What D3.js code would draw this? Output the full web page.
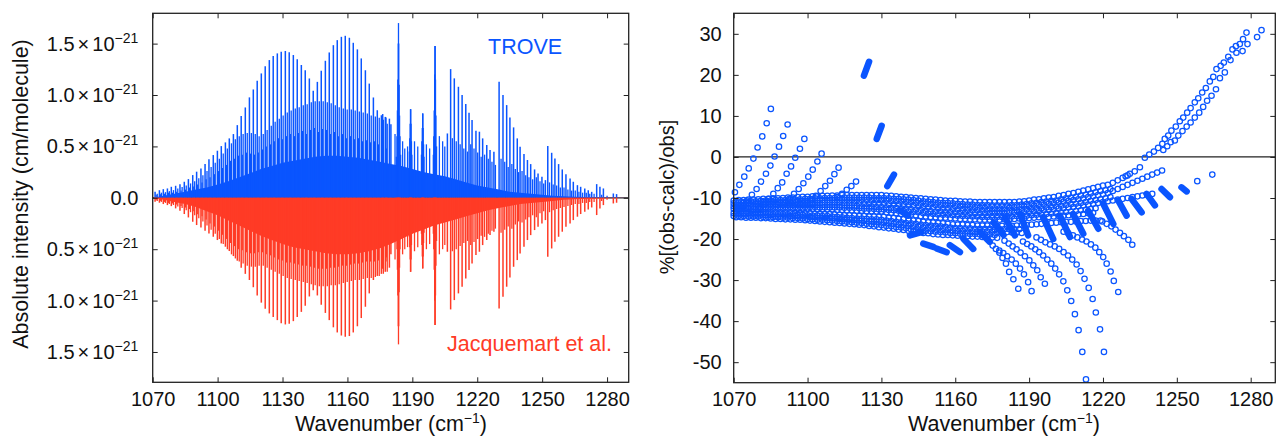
<!DOCTYPE html>
<html>
<head>
<meta charset="utf-8">
<script src="https://cdn.jsdelivr.net/npm/d3@7"></script>
<style>
  body { margin: 0; background: #fff; }
  svg text { font-family: "Liberation Sans", Arial, Helvetica, sans-serif; fill: #111; }
</style>
</head>
<body>
<script>
// ---------- left panel data (intensity in 1e-21 cm/molecule) ----------
// strongest comb of lines (P branch)
const lineX = [1071.1,1073.1,1074.9,1076.8,1078.6,1080.6,1082.6,1084.6,1086.5,1088.5,1090.3,1092.3,1094.2,1096.0,1098.0,1099.9,1101.7,1103.6,1105.4,1107.3,1109.1,1110.9,1112.8,1114.7,1116.5,1118.3,1120.2,1122.0,1123.9,1125.7,1127.6,1129.4,1131.3,1133.1,1135.0,1136.8,1138.7,1140.5,1142.4,1144.2,1146.1,1147.9,1149.8,1151.6,1153.5,1155.3,1157.2,1159.0,1160.9,1162.7,1164.6,1166.4,1168.3,1170.1,1172.0,1173.8,1175.7,1177.5,1179.4];
const blueMain = [0.058,0.074,0.084,0.091,0.107,0.117,0.133,0.156,0.182,0.221,0.254,0.286,0.328,0.374,0.416,0.458,0.503,0.539,0.578,0.620,0.707,0.795,0.879,0.977,1.054,1.138,1.210,1.281,1.340,1.379,1.405,1.421,1.428,1.415,1.389,1.347,1.292,1.241,1.161,1.041,1.128,1.236,1.333,1.414,1.485,1.534,1.566,1.576,1.557,1.508,1.444,1.356,1.241,1.111,0.976,0.852,0.803,0.787,0.770];
const redMain = [0.039,0.048,0.061,0.071,0.081,0.103,0.126,0.158,0.191,0.233,0.265,0.288,0.321,0.347,0.379,0.411,0.444,0.476,0.518,0.567,0.612,0.68,0.74,0.80,0.87,0.95,1.02,1.08,1.125,1.16,1.19,1.22,1.232,1.225,1.20,1.16,1.11,1.05,0.96,0.90,0.95,1.04,1.12,1.19,1.26,1.31,1.34,1.352,1.345,1.31,1.25,1.17,1.06,0.93,0.80,0.76,0.74,0.72,0.68];

// second comb (weaker sub-band)
const comb2X = [1072.1,1074.0,1075.9,1077.7,1079.6,1081.6,1083.6,1085.5,1087.5,1089.4,1091.3,1093.2,1095.1,1097.0,1098.9,1100.8,1102.6,1104.5,1106.4,1108.2,1110.0,1111.8,1113.7,1115.6,1117.4,1119.2,1121.1,1122.9,1124.8,1126.6,1128.5,1130.3,1132.2,1134.0,1135.9,1137.7,1139.6,1141.4,1143.3,1145.1,1147.0,1148.8,1150.7,1152.5,1154.4,1156.2,1158.1,1159.9,1161.8,1163.6,1165.5,1167.3,1169.2,1171.0,1172.9,1174.7,1176.6,1178.4];
const blueComb2 = [0.04,0.05,0.055,0.065,0.075,0.09,0.105,0.12,0.14,0.16,0.19,0.22,0.26,0.30,0.34,0.38,0.43,0.48,0.53,0.57,0.60,0.62,0.63,0.63,0.62,0.60,0.62,0.66,0.70,0.74,0.77,0.80,0.83,0.85,0.87,0.88,0.90,0.91,0.93,0.94,0.94,0.94,0.93,0.92,0.90,0.88,0.87,0.86,0.86,0.85,0.84,0.83,0.82,0.80,0.79,0.78,0.76,0.72];
const redComb2 = [0.03,0.04,0.05,0.06,0.07,0.085,0.10,0.12,0.14,0.17,0.20,0.23,0.27,0.31,0.35,0.40,0.45,0.50,0.55,0.59,0.62,0.64,0.66,0.67,0.67,0.66,0.66,0.68,0.70,0.72,0.74,0.76,0.78,0.79,0.80,0.81,0.82,0.83,0.84,0.85,0.86,0.86,0.86,0.85,0.85,0.84,0.83,0.82,0.81,0.80,0.80,0.79,0.78,0.78,0.77,0.76,0.74,0.72];

// third comb (between the two above)
const comb3X = [1071.6,1073.6,1075.4,1077.3,1079.1,1081.1,1083.1,1085.1,1087.0,1089.0,1090.8,1092.8,1094.7,1096.5,1098.5,1100.4,1102.2,1104.1,1105.9,1107.8,1109.6,1111.4,1113.3,1115.2,1117.0,1118.8,1120.7,1122.5,1124.4,1126.2,1128.1,1129.9,1131.8,1133.6,1135.5,1137.3,1139.2,1141.0,1142.9,1144.7,1146.6,1148.4,1150.3,1152.1,1154.0,1155.8,1157.7,1159.5,1161.4,1163.2,1165.1,1166.9,1168.8,1170.6,1172.5,1174.3,1176.2,1178.0];
const blueComb3 = [0.03,0.035,0.04,0.05,0.05,0.06,0.07,0.08,0.1,0.11,0.13,0.15,0.18,0.2,0.23,0.26,0.29,0.32,0.36,0.38,0.41,0.42,0.44,0.43,0.42,0.44,0.47,0.5,0.52,0.55,0.58,0.57,0.6,0.62,0.6,0.63,0.65,0.62,0.66,0.68,0.64,0.67,0.66,0.62,0.64,0.6,0.62,0.58,0.6,0.57,0.58,0.55,0.56,0.54,0.55,0.52,0.5,0.48];
const redComb3 = [0.025,0.03,0.04,0.05,0.055,0.065,0.08,0.095,0.11,0.13,0.16,0.18,0.21,0.25,0.28,0.32,0.36,0.40,0.44,0.47,0.5,0.51,0.53,0.54,0.54,0.53,0.53,0.55,0.56,0.58,0.6,0.61,0.63,0.63,0.64,0.65,0.66,0.66,0.67,0.68,0.69,0.69,0.69,0.68,0.68,0.67,0.66,0.66,0.65,0.64,0.64,0.63,0.62,0.62,0.62,0.61,0.59,0.58];

// Q branch spikes
const qX = [1182.6,1182.9,1183.1,1183.3,1183.5,1183.6,1183.7,1183.9,1184.1,1184.3,1184.6,1199.7,1199.9,1200.1,1200.3,1200.5,1200.7,1200.9,1201.2,1188.6,1188.8,1189.0,1189.2,1189.4,1189.6,1189.8,1194.2,1194.4,1194.6,1194.8,1195.0,1195.2,1195.4];
const qBlue = [0.4,0.6,0.85,1.15,1.5,1.70,1.5,1.1,0.8,0.6,0.42,0.42,0.6,0.85,1.2,1.476,1.15,0.8,0.5,0.45,0.58,0.72,0.86,0.72,0.55,0.42,0.42,0.55,0.68,0.82,0.68,0.52,0.4];
const qRed = [0.35,0.5,0.7,0.95,1.25,1.426,1.25,0.92,0.68,0.5,0.36,0.35,0.5,0.7,1.0,1.238,0.95,0.66,0.42,0.38,0.48,0.6,0.72,0.6,0.46,0.35,0.35,0.46,0.57,0.687,0.57,0.44,0.34];

// R branch lines
const rX = [1176.3,1177.8,1180.1,1189.2,1194.8,1200.5,1206.2,1207.7,1209.4,1211.3,1213.0,1214.7,1216.2,1217.6,1219.4,1221.0,1222.5,1224.4,1225.9,1227.7,1230.1,1231.9,1233.6,1235.1,1236.8,1238.5,1239.8,1241.6,1243.2,1244.7,1246.5,1248.1,1249.9,1251.5,1252.6,1254.4,1255.9,1257.6,1259.3,1261.0,1262.9,1264.4,1266.3,1267.8,1269.7,1271.3,1272.9,1275.2,1276.7,1278.3,1282.9,1284.4];
const rBlue = [0.815,0.781,0.716,0.863,0.821,1.476,0.626,1.252,1.162,1.080,0.999,0.912,0.828,0.756,0.652,0.643,0.578,0.513,0.464,0.448,1.129,0.999,0.902,0.782,0.685,0.578,0.497,0.426,0.368,0.328,0.276,0.237,0.204,0.172,0.503,0.438,0.383,0.328,0.276,0.230,0.188,0.156,0.123,0.107,0.091,0.074,0.058,0.133,0.107,0.091,0.042,0.036];
const rRed = [0.69,0.62,0.55,0.72,0.687,1.238,0.525,1.086,0.995,0.93,0.865,0.784,0.703,0.638,0.557,0.525,0.46,0.411,0.363,0.33,1.076,0.963,0.865,0.775,0.671,0.606,0.541,0.476,0.411,0.363,0.314,0.282,0.249,0.217,0.574,0.493,0.428,0.379,0.33,0.282,0.249,0.217,0.184,0.158,0.136,0.113,0.094,0.168,0.103,0.071,0.055,0.048];

// weaker R-branch lines
const r2X = [1182.0,1185.5,1186.5,1187.8,1191.0,1192.5,1196.5,1198.0,1202.5,1204.0,1205.0,1208.5,1210.3,1212.1,1213.8,1215.5,1217.0,1218.5,1220.2,1221.8,1223.4,1225.1,1226.8,1228.4,1231.0,1232.7,1234.3,1236.0,1237.6,1239.1,1240.7,1242.4,1243.9,1245.6,1247.3,1249.0,1250.7,1253.4,1255.1,1256.7,1258.4,1260.1,1261.9,1263.6,1265.3,1267.0,1268.7,1270.4,1272.0,1274.0,1277.5,1280.0];
const r2Blue = [0.62,0.55,0.48,0.5,0.55,0.5,0.52,0.48,0.6,0.55,0.5,0.58,0.55,0.52,0.48,0.45,0.52,0.48,0.44,0.4,0.42,0.38,0.35,0.32,0.38,0.35,0.3,0.33,0.28,0.25,0.26,0.22,0.2,0.18,0.2,0.16,0.14,0.15,0.13,0.12,0.1,0.1,0.08,0.07,0.07,0.06,0.05,0.05,0.04,0.04,0.03,0.02];
const r2Red = [0.6,0.55,0.5,0.48,0.52,0.48,0.5,0.45,0.55,0.5,0.46,0.52,0.5,0.47,0.44,0.42,0.46,0.43,0.4,0.37,0.38,0.35,0.32,0.3,0.34,0.31,0.28,0.3,0.26,0.23,0.24,0.21,0.19,0.17,0.19,0.15,0.13,0.14,0.12,0.11,0.1,0.09,0.08,0.07,0.06,0.06,0.05,0.05,0.04,0.04,0.03,0.02];

// dense unresolved lines (solid base)
const baseX = [1070,1075,1080,1085,1090,1095,1100,1105,1110,1115,1120,1125,1130,1135,1140,1145,1150,1155,1160,1165,1170,1175,1180,1185,1190,1195,1200,1205,1210,1215,1220,1225,1230,1235,1240,1245,1250,1255,1260,1265,1270,1275,1280,1285,1290];
const baseBlue = [0,0.02,0.04,0.06,0.08,0.10,0.13,0.16,0.20,0.24,0.28,0.31,0.34,0.36,0.38,0.40,0.41,0.41,0.40,0.39,0.37,0.35,0.33,0.31,0.28,0.25,0.23,0.21,0.18,0.15,0.12,0.10,0.08,0.06,0.05,0.04,0.03,0.02,0.015,0.01,0.008,0.005,0.003,0.002,0];
const baseRed = [0,0.02,0.04,0.06,0.09,0.13,0.17,0.22,0.27,0.32,0.37,0.41,0.45,0.48,0.50,0.52,0.54,0.55,0.55,0.54,0.52,0.49,0.45,0.40,0.35,0.31,0.27,0.24,0.21,0.18,0.15,0.12,0.10,0.08,0.06,0.05,0.04,0.03,0.02,0.015,0.01,0.008,0.005,0.003,0];

const xTicks = [1070,1100,1130,1160,1190,1220,1250,1280];
const yTicksL = [-1.5,-1.0,-0.5,0,0.5,1.0,1.5];
const yLabelsL = ["1.5","1.0","0.5","0.0","0.5","1.0","1.5"];

// ---------- right panel data (% (obs-calc)/obs) ----------
const bandXa = [1070,1072,1074,1076,1078,1080,1082,1084,1086,1088,1090,1092,1094,1096,1098,1100,1102,1104,1106,1108,1110,1112,1114,1116,1118,1120,1122,1124,1126,1128,1130,1132,1134,1136,1138,1140,1142,1144,1146,1148,1150,1152,1154,1156,1158,1160,1162,1164,1166,1168,1170,1172,1174,1176,1178,1180,1182,1184,1186,1188,1190,1192,1194,1196,1198,1200,1202,1204,1206,1208,1210,1212,1214,1216,1218,1220,1222,1224,1226,1228,1230,1232,1234,1236,1238,1240,1242,1244];
const bandXb = [1071,1073,1075,1077,1079,1081,1083,1085,1087,1089,1091,1093,1095,1097,1099,1101,1103,1105,1107,1109,1111,1113,1115,1117,1119,1121,1123,1125,1127,1129,1131,1133,1135,1137,1139,1141,1143,1145,1147,1149,1151,1153,1155,1157,1159,1161,1163,1165,1167,1169,1171,1173,1175,1177,1179,1181,1183,1185,1187,1189,1191,1193,1195,1197,1199,1201,1203,1205,1207,1209,1211,1213,1215,1217,1219,1221,1223,1225,1227,1229,1231,1233,1235,1237,1239,1241,1243,1245];
const band1 = [-10.6,-10.5,-10.5,-10.4,-10.4,-10.3,-10.2,-10.2,-10.1,-10.1,-10.0,-9.9,-9.9,-9.8,-9.7,-9.7,-9.6,-9.6,-9.5,-9.5,-9.4,-9.4,-9.3,-9.3,-9.3,-9.3,-9.3,-9.3,-9.3,-9.3,-9.3,-9.4,-9.5,-9.6,-9.7,-9.8,-9.9,-10.0,-10.1,-10.2,-10.3,-10.4,-10.5,-10.6,-10.7,-10.7,-10.8,-10.9,-10.9,-11.0,-11.0,-11.0,-11.0,-11.0,-11.0,-11.0,-11.0,-11.0,-10.9,-10.8,-10.6,-10.4,-10.3,-10.1,-9.9,-9.8,-9.5,-9.3,-9.0,-8.8,-8.5,-8.2,-7.9,-7.6,-7.3,-7.0,-6.8,-6.3,-5.7,-5.1,-4.5];
const band1b = [-11.0,-10.9,-10.9,-10.8,-10.8,-10.7,-10.6,-10.6,-10.5,-10.5,-10.5,-10.4,-10.4,-10.3,-10.2,-10.2,-10.1,-10.1,-10.0,-10.0,-10.0,-10.0,-9.9,-9.9,-9.9,-9.9,-9.9,-9.9,-10.0,-10.0,-10.0,-10.1,-10.2,-10.2,-10.3,-10.4,-10.5,-10.6,-10.8,-10.9,-11.0,-11.1,-11.2,-11.2,-11.3,-11.4,-11.5,-11.6,-11.6,-11.7,-11.7,-11.7,-11.8,-11.8,-11.8,-11.8,-11.7,-11.7,-11.6,-11.5,-11.3,-11.2,-11.0,-10.9,-10.7,-10.6,-10.3,-10.1,-9.9,-9.7,-9.4,-9.2,-8.9,-8.6,-8.3,-8.1,-7.8];
const band2 = [-11.3,-11.3,-11.2,-11.2,-11.1,-11.1,-11.0,-11.0,-10.9,-10.9,-10.9,-10.8,-10.8,-10.7,-10.7,-10.7,-10.6,-10.6,-10.5,-10.5,-10.5,-10.5,-10.5,-10.5,-10.5,-10.5,-10.5,-10.5,-10.6,-10.6,-10.6,-10.7,-10.8,-10.8,-10.9,-11.0,-11.1,-11.2,-11.4,-11.5,-11.6,-11.7,-11.8,-11.8,-11.9,-12.0,-12.1,-12.2,-12.2,-12.3,-12.4,-12.4,-12.5,-12.5,-12.5,-12.5,-12.4,-12.3,-12.2,-12.1,-12.0,-11.9,-11.7,-11.6,-11.4,-11.3,-11.1,-10.9,-10.7,-10.5,-10.3,-10.1,-9.8,-9.6,-9.3,-9.1,-8.8,-8.3,-7.8,-7.3,-6.8,-6.3,-5.8,-5.3,-4.8,-4.3,-3.8,-3.3];
const band2b = [-11.7,-11.7,-11.6,-11.6,-11.5,-11.5,-11.4,-11.4,-11.4,-11.3,-11.3,-11.3,-11.3,-11.2,-11.2,-11.2,-11.2,-11.2,-11.1,-11.1,-11.1,-11.1,-11.2,-11.2,-11.2,-11.2,-11.3,-11.3,-11.4,-11.4,-11.4,-11.5,-11.6,-11.6,-11.7,-11.8,-11.9,-12.0,-12.2,-12.3,-12.4,-12.5,-12.6,-12.6,-12.7,-12.8,-12.9,-12.9,-13.0,-13.0,-13.1,-13.1,-13.2,-13.2,-13.2,-13.2,-13.1,-13.0,-12.9,-12.8,-12.7,-12.6,-12.5,-12.3,-12.2,-12.1,-11.9,-11.7,-11.5,-11.4,-11.2,-11.0,-10.7,-10.5,-10.3,-10.1,-9.8];
const band3 = [-12.0,-12.0,-12.0,-11.9,-11.9,-11.9,-11.8,-11.8,-11.8,-11.7,-11.7,-11.7,-11.7,-11.7,-11.7,-11.7,-11.7,-11.7,-11.7,-11.7,-11.7,-11.7,-11.8,-11.8,-11.8,-11.9,-12.0,-12.0,-12.1,-12.2,-12.2,-12.3,-12.4,-12.4,-12.5,-12.6,-12.7,-12.8,-12.9,-13.1,-13.2,-13.3,-13.3,-13.4,-13.4,-13.5,-13.6,-13.6,-13.7,-13.7,-13.8,-13.8,-13.8,-13.8,-13.8,-13.8,-13.7,-13.6,-13.5,-13.5,-13.4,-13.3,-13.2,-13.0,-12.9,-12.8,-12.6,-12.5,-12.3,-12.2,-12.0,-11.8,-11.6,-11.4,-11.2,-11.0,-10.8,-10.6,-10.4,-10.2,-10.0,-9.8,-9.6,-9.4,-9.2,-9.0];
const band3b = [-12.4,-12.4,-12.4,-12.3,-12.3,-12.3,-12.3,-12.2,-12.2,-12.2,-12.2,-12.2,-12.2,-12.2,-12.2,-12.2,-12.2,-12.3,-12.3,-12.3,-12.3,-12.3,-12.4,-12.4,-12.4,-12.5,-12.6,-12.6,-12.7,-12.8,-12.8,-12.9,-13.0,-13.1,-13.2,-13.3,-13.4,-13.5,-13.7,-13.8,-13.9,-14.0,-14.1,-14.1,-14.2,-14.3,-14.4,-14.4,-14.5,-14.5,-14.6,-14.6,-14.6,-14.6,-14.6,-14.5,-14.5,-14.4,-14.3,-14.3,-14.2,-14.1,-14.0,-13.9,-13.8,-13.7,-13.5,-13.4,-13.3,-13.2,-13.0,-12.9,-12.7,-12.5];
const band4 = [-12.7,-12.7,-12.7,-12.7,-12.7,-12.7,-12.7,-12.6,-12.6,-12.6,-12.6,-12.6,-12.6,-12.7,-12.7,-12.7,-12.7,-12.8,-12.8,-12.8,-12.8,-12.9,-12.9,-13.0,-13.0,-13.1,-13.1,-13.2,-13.2,-13.3,-13.3,-13.5,-13.6,-13.7,-13.9,-14.0,-14.1,-14.2,-14.4,-14.5,-14.6,-14.7,-14.8,-14.8,-14.9,-15.0,-15.1,-15.1,-15.2,-15.2,-15.3,-15.3,-15.3,-15.3,-15.3,-15.2,-15.2,-15.1,-15.0,-15.0,-14.9,-14.8,-14.7,-14.7,-14.6,-14.5,-14.4,-14.3,-14.2,-14.1,-14.0,-13.9,-13.7,-13.6];
const band5 = [-13.3,-13.3,-13.3,-13.3,-13.4,-13.4,-13.4,-13.4,-13.5,-13.5,-13.5,-13.5,-13.6,-13.6,-13.7,-13.7,-13.8,-13.8,-13.9,-13.9,-14.0,-14.1,-14.2,-14.2,-14.3,-14.4,-14.4,-14.5,-14.5,-14.6,-14.6,-14.8,-14.9,-15.1,-15.2,-15.4,-15.5,-15.6,-15.8,-15.9,-16.0,-16.1,-16.2,-16.3,-16.4,-16.5,-16.5,-16.6,-16.6,-16.7,-16.7,-16.7,-16.7,-16.8,-16.8,-16.8,-16.8,-16.7,-16.6,-16.6,-16.5,-16.4,-16.3,-16.2,-16.1,-16.0,-15.9,-15.8,-15.8,-15.7,-15.6,-15.6,-15.5,-15.5,-15.5];
const band5b = [-13.7,-13.7,-13.7,-13.7,-13.8,-13.8,-13.8,-13.8,-13.9,-13.9,-13.9,-14.0,-14.0,-14.1,-14.1,-14.2,-14.3,-14.3,-14.4,-14.4,-14.5,-14.6,-14.7,-14.8,-14.9,-15.0,-15.0,-15.1,-15.2,-15.2,-15.3,-15.5,-15.6,-15.8,-15.9,-16.1,-16.2,-16.3,-16.5,-16.6,-16.7,-16.8,-16.9,-17.0,-17.2,-17.3,-17.3,-17.4,-17.4,-17.5,-17.5,-17.5,-17.5,-17.6,-17.6,-17.6,-17.6,-17.6,-17.6];
const band6 = [-14.0,-14.0,-14.0,-14.1,-14.1,-14.1,-14.2,-14.2,-14.3,-14.3,-14.3,-14.4,-14.4,-14.5,-14.5,-14.6,-14.7,-14.8,-14.8,-14.9,-15.0,-15.1,-15.2,-15.3,-15.4,-15.5,-15.6,-15.7,-15.8,-15.8,-15.9,-16.1,-16.3,-16.5,-16.6,-16.8,-16.9,-17.0,-17.2,-17.3,-17.4,-17.5,-17.6,-17.7,-17.9,-18.0,-18.0,-18.1,-18.1,-18.2,-18.2,-18.2,-18.2,-18.3,-18.3,-18.3,-18.4,-18.4,-18.5];
const band6b = [-14.4,-14.4,-14.4,-14.5,-14.5,-14.5,-14.6,-14.6,-14.7,-14.7,-14.8,-14.8,-14.9,-14.9,-15.0,-15.1,-15.2,-15.3,-15.3,-15.4,-15.5,-15.6,-15.7,-15.8,-15.9,-16.0,-16.1,-16.3,-16.4,-16.5,-16.6,-16.8,-16.9,-17.1,-17.2,-17.4,-17.6,-17.7,-17.9,-18.0,-18.1,-18.2,-18.3,-18.4,-18.5,-18.6,-18.7,-18.7,-18.8,-18.8,-18.9,-18.9,-18.9,-19.0];
const band7 = [-14.7,-14.7,-14.8,-14.8,-14.8,-14.9,-14.9,-15.0,-15.1,-15.1,-15.2,-15.2,-15.3,-15.3,-15.4,-15.5,-15.6,-15.7,-15.8,-15.9,-16.0,-16.1,-16.2,-16.3,-16.4,-16.5,-16.6,-16.8,-16.9,-17.1,-17.2,-17.4,-17.5,-17.7,-17.8,-18.0,-18.2,-18.3,-18.5,-18.6,-18.8,-18.9,-19.0,-19.0,-19.1,-19.2,-19.3,-19.3,-19.4,-19.4,-19.5,-19.5,-19.6,-19.7];

// rising branches on the left
const fanA1 = [[1070.5,-8.6],[1072.3,-6.8],[1074.3,-4.8],[1076.1,-2.8],[1078.0,-0.4],[1079.7,2.3],[1081.6,5.0],[1083.4,8.2],[1085.1,11.7]];
const fanA2 = [[1071.9,-12.9],[1073.7,-11.8],[1075.5,-10.6],[1077.4,-9.2],[1079.3,-7.8],[1081.1,-6.0],[1083.1,-4.1],[1084.9,-2.1],[1086.6,0.1],[1088.4,2.5],[1090.1,5.1],[1091.9,7.9]];
const fanA3 = [[1080.6,-12.4],[1082.4,-11.4],[1084.3,-10.2],[1086.1,-9.0],[1087.9,-7.6],[1089.7,-6.2],[1091.5,-4.1],[1093.3,-2.3],[1095.0,-0.2],[1096.9,2.0],[1098.7,4.4]];
const fanA4 = [[1090.7,-11.2],[1092.6,-10.2],[1094.5,-9.0],[1096.4,-7.8],[1098.3,-6.4],[1100.3,-4.8],[1102.1,-3.1],[1104.0,-1.1],[1105.7,0.8]];
const fanA5 = [[1101.5,-10.4],[1103.4,-9.5],[1105.3,-8.3],[1107.2,-7.1],[1109.1,-5.8],[1110.9,-4.2],[1112.6,-2.6]];
const fanA6 = [[1112.1,-9.8],[1114.0,-9.0],[1115.9,-8.0],[1117.8,-7.1],[1119.7,-6.0]];

// falling branches at the bottom
const fanC1 = [[1175.2,-21.6],[1176.5,-22.4],[1177.9,-23.3],[1179.2,-24.6],[1180.6,-26.0],[1181.9,-28.0],[1183.6,-29.8],[1185.6,-32.1]];
const fanC2 = [[1177.9,-22.8],[1179.5,-23.4],[1181.1,-24.2],[1182.9,-25.0],[1184.6,-26.0],[1186.3,-27.2],[1187.9,-28.6],[1189.6,-30.5],[1191.0,-32.7]];
const fanC3 = [[1180.0,-20.4],[1181.7,-21.1],[1183.3,-21.8],[1184.9,-22.5],[1186.5,-23.3],[1188.3,-24.2],[1190.1,-25.2],[1191.7,-26.4],[1193.3,-27.6],[1194.7,-29.3],[1196.4,-30.9]];
const fanC4 = [[1187.5,-20.6],[1189.2,-21.2],[1190.9,-21.8],[1192.5,-22.5],[1194.1,-23.2],[1195.7,-24.0],[1197.4,-25.0],[1199.0,-26.0],[1200.6,-27.2],[1202.2,-28.6],[1203.9,-30.3],[1205.5,-32.5],[1207.1,-35.1],[1208.6,-38.3],[1210.1,-42.2],[1211.6,-47.5],[1213.1,-54.2]];
const fanC5 = [[1193.0,-19.6],[1194.8,-20.2],[1196.6,-20.8],[1198.5,-21.3],[1200.4,-21.8],[1202.2,-22.4],[1204.0,-23.2],[1205.8,-24.0],[1207.5,-25.0],[1209.3,-26.2],[1210.9,-27.8],[1212.5,-29.7],[1214.2,-31.9],[1215.8,-34.6],[1217.1,-37.9],[1218.8,-42.0],[1220.4,-47.5]];
const fanC6 = [[1204.0,-18.2],[1205.9,-18.6],[1207.8,-19.1],[1209.6,-19.6],[1211.5,-20.1],[1213.3,-20.6],[1215.1,-21.3],[1216.9,-22.1],[1218.5,-23.2],[1220.1,-24.4],[1221.5,-26.0],[1223.1,-27.9],[1224.4,-30.2],[1226.2,-32.9]];
const fanC7 = [[1219.7,-15.7],[1221.5,-16.3],[1223.4,-16.9],[1225.1,-17.7],[1226.9,-18.5],[1228.5,-19.3],[1230.3,-20.2],[1231.9,-21.4]];

// rising branches on the right
const riseD1 = [[1229.2,-4.7],[1230.9,-4.1],[1232.9,-3.5],[1235.0,-2.5],[1237.0,-0.2],[1238.8,0.6],[1240.7,1.3],[1242.4,2.2],[1244.1,3.2],[1245.1,4.4],[1246.5,5.2],[1247.8,6.4],[1249.6,7.4],[1251.2,8.7],[1252.6,9.6],[1254.2,10.8],[1255.6,11.9],[1257.3,13.3],[1258.7,14.3],[1260.3,15.7],[1261.8,16.8],[1263.4,18.4],[1264.8,19.5],[1266.1,21.4],[1267.8,22.2],[1269.1,23.0],[1270.9,24.4],[1272.6,26.2],[1274.0,27.0],[1275.6,27.5],[1276.9,28.7],[1278.3,30.3],[1282.6,29.2],[1284.4,30.9]];
const riseD2 = [[1244.5,1.7],[1246.1,2.6],[1247.5,3.6],[1249.2,4.0],[1250.6,5.2],[1252.3,6.3],[1254.0,7.4],[1255.6,8.4],[1257.3,9.6],[1259.1,10.8],[1260.7,12.2],[1262.3,13.7],[1264.1,14.9],[1265.9,16.5],[1267.5,19.2],[1269.5,20.6],[1271.8,23.6],[1274.2,25.4],[1276.7,25.8],[1278.7,27.5]];

// short dense runs drawn as thick strokes: [x0, y0, x1, y1]
const runs = [[1122.9,19.8,1125.0,23.2],[1128.1,4.4,1130.1,7.6],[1132.4,-7.1,1135.1,-4.3],[1137.5,-13.0,1140.9,-14.3],[1141.6,-19.1,1146.3,-18.3],[1147.0,-21.1,1151.1,-21.9],[1152.4,-22.3,1156.5,-23.2],[1157.8,-21.5,1161.9,-23.2],[1163.3,-19.9,1167.3,-22.4],[1170.0,-18.3,1174.0,-20.7],[1175.6,-16.0,1179.6,-19.0],[1180.2,-14.7,1184.2,-19.1],[1186.3,-13.9,1189.6,-19.1],[1195.7,-14.7,1199.8,-20.0],[1202.5,-14.3,1206.6,-19.5],[1207.9,-13.9,1212.0,-18.7],[1214.0,-13.1,1218.1,-17.5],[1220.1,-11.4,1224.2,-16.3],[1226.2,-10.6,1229.6,-14.3],[1231.6,-10.2,1235.7,-13.5],[1237.7,-9.0,1241.1,-11.8],[1243.8,-7.8,1247.2,-9.8],[1251.9,-7.4,1254.0,-8.4]];
const singles = [[1258.3,-5.9],[1264.4,-4.3]];

const yTicksR = [-50,-40,-30,-20,-10,0,10,20,30];

// ---------- drawing ----------
const blue = "#0a55ff", red = "#ff3b26";
const svg = d3.select("body").append("svg").attr("width", 1277).attr("height", 437);

function frameAxes(g, x, y, box, xt, yt) {
  const ax = g.append("g");
  ax.append("g").attr("transform", `translate(0,${box.y1})`)
    .call(d3.axisBottom(x).tickValues(xt).tickFormat(d3.format("d")).tickSizeInner(-5).tickSizeOuter(0).tickPadding(9.5));
  ax.append("g").attr("transform", `translate(0,${box.y0})`)
    .call(d3.axisTop(x).tickValues(xt).tickSizeInner(-5).tickSizeOuter(0).tickFormat(""));
  ax.append("g").attr("transform", `translate(${box.x1},0)`)
    .call(d3.axisRight(y).tickValues(yt).tickSizeInner(-5).tickSizeOuter(0).tickFormat(""));
  const left = ax.append("g").attr("transform", `translate(${box.x0},0)`)
    .call(d3.axisLeft(y).tickValues(yt).tickSizeInner(-5).tickSizeOuter(0).tickPadding(12));
  ax.selectAll(".domain").remove();
  ax.selectAll(".tick line").attr("stroke", "#222").attr("stroke-width", 1);
  ax.selectAll("text").attr("font-size", 20).attr("font-family", null).attr("fill", "#111");
  g.append("rect").attr("x", box.x0).attr("y", box.y0)
    .attr("width", box.x1 - box.x0).attr("height", box.y1 - box.y0)
    .attr("fill", "none").attr("stroke", "#222").attr("stroke-width", 1.3);
  return left;
}

function xTitle(g, cx) {
  const t = g.append("text").attr("x", cx).attr("y", 431).attr("text-anchor", "middle").attr("font-size", 21.5);
  t.append("tspan").text("Wavenumber (cm");
  t.append("tspan").attr("dy", -8).attr("font-size", 14).text("\u22121");
  t.append("tspan").attr("dy", 8).text(")");
}

// ----- left panel -----
const L = {x0: 152.7, x1: 628.7, y0: 13.3, y1: 382.3};
const xL = d3.scaleLinear().domain([1070, 1290]).range([L.x0, L.x1]);
const yL = d3.scaleLinear().domain([-1.795, 1.795]).range([L.y1, L.y0]);
const gL = svg.append("g");

gL.append("line").attr("x1", L.x0).attr("x2", L.x1).attr("y1", yL(0)).attr("y2", yL(0))
  .attr("stroke", "#222").attr("stroke-width", 1.2);

function baseArea(vals, sign, color) {
  const area = d3.area().x(d => xL(d[0])).y0(yL(0)).y1(d => yL(sign * d[1]));
  gL.append("path").datum(d3.zip(baseX, vals)).attr("d", area).attr("fill", color);
}
function sticks(xs, hs, sign, color, w) {
  gL.append("g").selectAll("line").data(d3.zip(xs, hs)).enter().append("line")
    .attr("x1", d => xL(d[0])).attr("x2", d => xL(d[0]))
    .attr("y1", yL(0)).attr("y2", d => yL(sign * d[1]))
    .attr("stroke", color).attr("stroke-width", w);
}
baseArea(baseBlue, 1, blue);
sticks(comb3X, blueComb3, 1, blue, 1.3);
sticks(comb2X, blueComb2, 1, blue, 1.3);
sticks(r2X, r2Blue, 1, blue, 1.3);
sticks(lineX, blueMain, 1, blue, 1.5);
sticks(rX, rBlue, 1, blue, 1.5);
sticks(qX, qBlue, 1, blue, 1.3);
baseArea(baseRed, -1, red);
sticks(comb3X, redComb3, -1, red, 1.3);
sticks(comb2X, redComb2, -1, red, 1.3);
sticks(r2X, r2Red, -1, red, 1.3);
sticks(lineX, redMain, -1, red, 1.5);
sticks(rX, rRed, -1, red, 1.5);
sticks(qX, qRed, -1, red, 1.3);

const leftAxL = frameAxes(gL, xL, yL, L, xTicks, yTicksL);
leftAxL.selectAll("text").remove();
gL.selectAll(".ylab").data(yTicksL).enter().append("text").attr("class", "ylab")
  .attr("x", 138.3).attr("y", d => yL(d)).attr("dy", "0.35em").attr("text-anchor", "end")
  .attr("font-size", 20)
  .each(function (d, i) {
    const t = d3.select(this);
    if (d === 0) { t.text(yLabelsL[i]); return; }
    t.append("tspan").text(yLabelsL[i]);
    t.append("tspan").attr("dx", 3).text("\u00d7");
    t.append("tspan").attr("dx", 3).text("10");
    t.append("tspan").attr("dy", -8).attr("font-size", 14).text("\u221221");
  });

gL.append("text").attr("transform", "translate(28,194) rotate(-90)")
  .attr("text-anchor", "middle").attr("font-size", 21.5).text("Absolute intensity (cm/molecule)");
xTitle(gL, 391);
gL.append("text").attr("x", 488).attr("y", 54).attr("font-size", 21.5).style("fill", blue).text("TROVE");
gL.append("text").attr("x", 612).attr("y", 351).attr("text-anchor", "end").attr("font-size", 21.5)
  .style("fill", red).text("Jacquemart et al.");

// ----- right panel -----
const R = {x0: 733.7, x1: 1275.3, y0: 13.3, y1: 382.7};
const xR = d3.scaleLinear().domain([1070, 1290]).range([R.x0, R.x1]);
const yR = d3.scaleLinear().domain([-55, 35]).range([R.y1, R.y0]);
const gR = svg.append("g");

gR.append("line").attr("x1", R.x0).attr("x2", R.x1).attr("y1", yR(0)).attr("y2", yR(0))
  .attr("stroke", "#222").attr("stroke-width", 1.2);

const bandSets = [[bandXa, band1], [bandXb, band1b], [bandXa, band2], [bandXb, band2b], [bandXa, band3], [bandXb, band3b],
  [bandXa, band4], [bandXb, band5], [bandXa, band5b], [bandXb, band6], [bandXa, band6b], [bandXb, band7]];
let pts = [];
bandSets.forEach(s => { pts = pts.concat(d3.zip(s[0], s[1])); });
[fanA1, fanA2, fanA3, fanA4, fanA5, fanA6, fanC1, fanC2, fanC3, fanC4, fanC5, fanC6, fanC7, riseD1, riseD2, singles]
  .forEach(s => { pts = pts.concat(s); });

gR.append("g").selectAll("line").data(runs).enter().append("line")
  .attr("x1", d => xR(d[0])).attr("y1", d => yR(d[1]))
  .attr("x2", d => xR(d[2])).attr("y2", d => yR(d[3]))
  .attr("stroke", blue).attr("stroke-width", 6.5).attr("stroke-linecap", "round");

gR.append("g").selectAll("circle").data(pts).enter().append("circle")
  .attr("cx", d => xR(d[0])).attr("cy", d => yR(d[1])).attr("r", 2.7)
  .attr("fill", "none").attr("stroke", blue).attr("stroke-width", 1.25);

const leftAxR = frameAxes(gR, xR, yR, R, xTicks, yTicksR);
leftAxR.selectAll("text").text(d => String(d));

gR.append("text").attr("transform", "translate(674,197) rotate(-90)")
  .attr("text-anchor", "middle").attr("font-size", 20).text("%[(obs-calc)/obs]");
xTitle(gR, 1004);
</script>
</body>
</html>
